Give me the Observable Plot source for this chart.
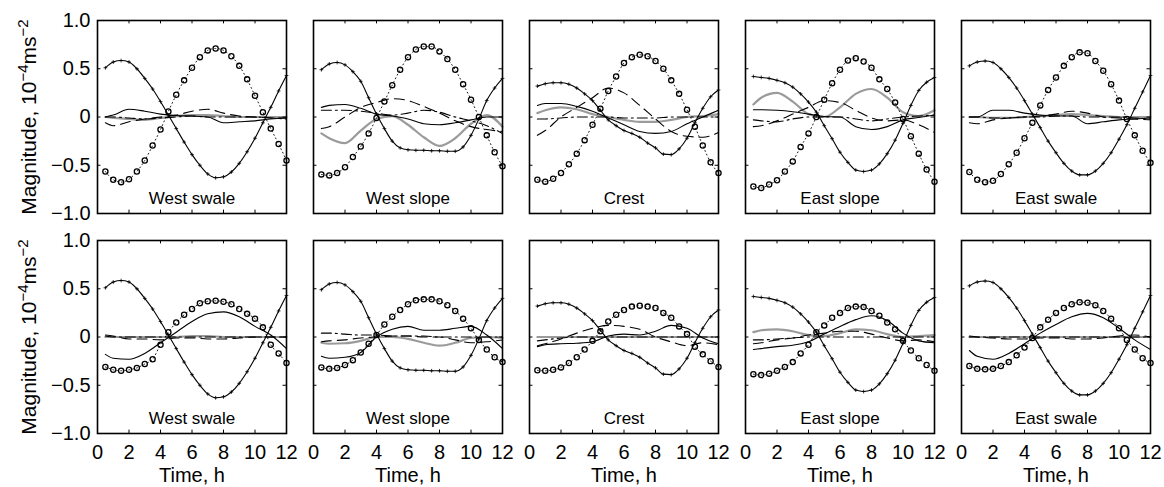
<!DOCTYPE html>
<html><head><meta charset="utf-8">
<script src="https://cdn.jsdelivr.net/npm/d3@7"></script>
<script src="https://cdn.jsdelivr.net/npm/@observablehq/plot@0.6"></script>
<style>
html,body{margin:0;padding:0;background:#fff;}
#chart{width:1164px;height:487px;}
</style></head><body><div id="chart"></div>
<script>
// ---------- data ----------
const sites = ["West swale", "West slope", "Crest", "East slope", "East swale"];
const rows = ["top", "bottom"];
const markerHours = [0.5,1,1.5,2,2.5,3,3.5,4,4.5,5,5.5,6,6.5,7,7.5,8,8.5,9,9.5,10,10.5,11,11.5,12];
const lineHours = [0.5,1,2,3,4,5,6,7,8,9,10,11,12];
const xTicks = [0,2,4,6,8,10,12];
const yTicks = [-1,-0.5,0,0.5,1];
const xLabel = "Time, h";
const yLabel = "Magnitude, 10⁻⁴ms⁻²";

// line with "+" markers (same in both rows)
const plusTotal = [
  [0.51,0.57,0.585,0.57,0.50,0.40,0.29,0.16,0.02,-0.12,-0.26,-0.39,-0.50,-0.59,-0.63,-0.62,-0.57,-0.48,-0.36,-0.22,-0.06,0.10,0.27,0.43],
  [0.49,0.55,0.565,0.54,0.47,0.37,0.20,0.03,-0.12,-0.25,-0.32,-0.34,-0.345,-0.345,-0.35,-0.35,-0.355,-0.355,-0.31,-0.19,-0.02,0.17,0.30,0.40],
  [0.32,0.345,0.355,0.355,0.34,0.30,0.24,0.17,0.07,-0.03,-0.09,-0.14,-0.17,-0.21,-0.27,-0.32,-0.385,-0.39,-0.33,-0.22,-0.06,0.09,0.21,0.28],
  [0.42,0.41,0.40,0.38,0.355,0.31,0.24,0.155,0.05,-0.09,-0.225,-0.365,-0.47,-0.55,-0.565,-0.55,-0.485,-0.38,-0.24,-0.065,0.12,0.275,0.36,0.41],
  [0.53,0.57,0.58,0.565,0.50,0.41,0.30,0.17,0.03,-0.11,-0.25,-0.37,-0.48,-0.56,-0.60,-0.60,-0.56,-0.48,-0.37,-0.23,-0.08,0.09,0.26,0.43]
];
// dotted line with circle markers
const circlesTop = [
  [-0.565,-0.65,-0.675,-0.645,-0.565,-0.45,-0.295,-0.13,0.057,0.23,0.38,0.51,0.62,0.69,0.71,0.69,0.63,0.53,0.39,0.22,0.05,-0.12,-0.28,-0.45],
  [-0.595,-0.605,-0.58,-0.52,-0.415,-0.305,-0.17,-0.01,0.16,0.33,0.49,0.62,0.70,0.73,0.73,0.68,0.60,0.49,0.34,0.18,0.0,-0.19,-0.365,-0.51],
  [-0.65,-0.67,-0.64,-0.58,-0.49,-0.38,-0.24,-0.08,0.085,0.27,0.42,0.56,0.62,0.645,0.63,0.58,0.50,0.38,0.24,0.075,-0.10,-0.295,-0.47,-0.58],
  [-0.72,-0.735,-0.70,-0.655,-0.565,-0.46,-0.31,-0.17,0.0,0.18,0.35,0.49,0.585,0.61,0.575,0.51,0.39,0.29,0.15,-0.02,-0.20,-0.38,-0.545,-0.67],
  [-0.57,-0.65,-0.675,-0.66,-0.59,-0.49,-0.37,-0.22,-0.06,0.12,0.28,0.41,0.53,0.62,0.67,0.66,0.58,0.48,0.34,0.17,-0.02,-0.19,-0.35,-0.475]
];
const circlesBottom = [
  [-0.31,-0.34,-0.35,-0.34,-0.32,-0.28,-0.23,-0.08,0.05,0.15,0.23,0.29,0.35,0.37,0.375,0.365,0.34,0.29,0.24,0.19,0.10,-0.08,-0.17,-0.27],
  [-0.315,-0.33,-0.32,-0.29,-0.24,-0.16,-0.07,0.02,0.13,0.21,0.28,0.34,0.38,0.39,0.39,0.37,0.33,0.27,0.19,0.09,-0.03,-0.13,-0.21,-0.26],
  [-0.345,-0.35,-0.34,-0.315,-0.27,-0.21,-0.13,-0.04,0.06,0.16,0.23,0.28,0.315,0.325,0.315,0.30,0.25,0.20,0.11,0.03,-0.10,-0.18,-0.25,-0.31],
  [-0.385,-0.395,-0.38,-0.35,-0.31,-0.26,-0.17,-0.08,0.05,0.12,0.20,0.25,0.30,0.315,0.31,0.27,0.22,0.15,0.08,-0.04,-0.14,-0.22,-0.29,-0.35],
  [-0.30,-0.33,-0.335,-0.33,-0.30,-0.26,-0.19,-0.11,-0.01,0.10,0.18,0.25,0.30,0.34,0.36,0.355,0.33,0.27,0.19,0.09,-0.03,-0.13,-0.22,-0.27]
];
// thin solid black line
const solidTop = [
  [0.0,0.02,0.08,0.06,0.03,0.015,0.01,0.0,-0.06,-0.05,-0.04,-0.02,-0.01],
  [0.10,0.12,0.13,0.09,0.03,0.01,-0.02,-0.07,-0.08,-0.06,-0.03,0.0,0.0],
  [0.12,0.14,0.14,0.11,0.06,-0.01,-0.08,-0.15,-0.17,-0.15,-0.07,0.0,0.07],
  [0.075,0.075,0.07,0.055,0.03,0.005,0.0,-0.10,-0.13,-0.10,-0.03,-0.005,0.02],
  [0.0,0.0,0.07,0.07,0.04,0.02,0.01,0.01,-0.07,-0.05,-0.03,-0.02,-0.01]
];
const solidBottom = [
  [-0.18,-0.22,-0.23,-0.17,-0.06,0.05,0.16,0.24,0.26,0.21,0.11,0.02,-0.12],
  [-0.20,-0.22,-0.21,-0.16,0.0,0.08,0.11,0.07,0.07,0.09,0.11,0.02,-0.12],
  [-0.10,-0.08,-0.07,-0.065,-0.05,0.01,0.03,0.02,0.06,0.12,0.09,-0.01,-0.07],
  [-0.13,-0.12,-0.10,-0.085,-0.05,0.03,0.11,0.18,0.22,0.17,0.04,-0.04,-0.06],
  [-0.14,-0.20,-0.23,-0.17,-0.07,0.04,0.13,0.21,0.245,0.20,0.09,-0.03,-0.13]
];
// dashed black line
const dashedTop = [
  [-0.06,-0.09,-0.05,-0.02,0.0,0.02,0.06,0.08,0.04,0.01,0.0,-0.01,-0.01],
  [-0.12,-0.10,0.0,0.10,0.15,0.19,0.17,0.11,0.04,-0.04,-0.10,-0.13,-0.15],
  [-0.19,-0.14,0.0,0.10,0.20,0.30,0.25,0.12,-0.02,-0.15,-0.20,-0.21,-0.16],
  [-0.10,-0.09,-0.04,0.03,0.10,0.17,0.15,0.07,-0.01,-0.04,-0.03,-0.08,-0.16],
  [-0.06,-0.07,-0.03,-0.01,0.0,0.01,0.03,0.06,0.04,0.0,-0.01,-0.02,-0.03]
];
const dashedBottom = [
  [0.02,0.01,-0.02,-0.02,-0.03,-0.01,-0.01,-0.02,-0.02,-0.01,0.0,0.0,0.0],
  [-0.05,-0.04,-0.03,-0.01,0.0,0.01,0.01,0.0,0.0,-0.03,-0.06,-0.05,-0.03],
  [-0.09,-0.07,-0.02,0.04,0.09,0.12,0.11,0.08,0.0,-0.05,-0.09,-0.06,-0.08],
  [-0.07,-0.06,-0.03,-0.01,0.02,0.04,0.06,0.06,0.03,-0.01,-0.04,-0.03,-0.05],
  [0.01,0.0,-0.01,-0.02,-0.02,-0.01,-0.01,-0.02,-0.02,-0.01,0.01,0.02,0.0]
];
// dash-dot black line
const dashDotTop = [
  [0.0,0.0,-0.01,-0.02,-0.01,0.0,0.01,0.0,0.0,0.0,0.0,-0.01,-0.02],
  [0.07,0.07,0.07,0.06,0.04,0.02,0.04,0.07,0.05,0.0,-0.04,-0.09,-0.17],
  [-0.02,-0.02,-0.01,0.0,0.0,0.0,-0.01,-0.01,-0.01,0.0,0.0,0.0,0.0],
  [-0.03,-0.04,-0.05,-0.02,0.0,0.0,0.0,-0.02,-0.04,-0.02,0.0,0.01,0.02],
  [0.0,0.0,-0.01,-0.01,0.0,0.0,0.01,0.01,0.0,0.0,0.0,-0.01,-0.02]
];
const dashDotBottom = [
  [0.01,0.0,0.0,0.0,0.0,0.0,0.0,0.0,0.0,0.0,0.0,0.0,0.0],
  [0.04,0.04,0.03,0.02,0.02,0.01,0.01,0.01,0.0,0.0,0.0,0.0,0.0],
  [-0.04,-0.03,-0.01,0.0,0.0,0.0,0.0,0.0,0.0,0.0,0.0,0.0,0.0],
  [-0.03,-0.03,-0.02,-0.01,0.0,0.0,0.0,0.0,0.0,0.0,0.0,0.0,0.0],
  [0.0,0.0,0.0,0.0,0.0,0.0,0.0,0.0,0.0,0.0,0.0,0.0,0.0]
];
// thick gray line
const grayTop = [
  [0.0,-0.01,-0.02,-0.03,-0.01,0.01,0.02,0.02,0.01,0.0,0.0,0.0,0.0],
  [-0.17,-0.22,-0.27,-0.14,-0.02,0.01,-0.08,-0.21,-0.30,-0.22,-0.07,0.02,-0.10],
  [0.04,0.07,0.10,0.08,0.03,0.0,-0.03,-0.05,-0.05,-0.03,0.0,0.01,0.03],
  [0.13,0.20,0.25,0.16,0.03,0.0,0.10,0.24,0.29,0.20,0.05,0.01,0.07],
  [0.0,0.0,-0.01,-0.01,0.0,0.01,0.02,0.03,0.02,0.01,0.0,0.0,0.0]
];
const grayBottom = [
  [0.0,0.0,0.0,0.0,0.0,0.0,0.01,0.01,0.0,0.0,0.0,0.0,0.0],
  [-0.06,-0.07,-0.065,-0.04,0.0,0.0,-0.02,-0.06,-0.09,-0.06,-0.01,0.0,-0.01],
  [0.0,0.0,0.0,0.0,0.0,0.0,0.0,0.0,0.0,0.0,0.0,0.0,0.0],
  [0.05,0.07,0.08,0.06,0.02,0.01,0.04,0.08,0.07,0.03,0.0,0.01,0.02],
  [0.0,0.0,0.0,0.0,0.0,0.0,0.0,0.0,0.0,0.0,0.0,0.0,0.0]
];

// ---------- long table ----------
const pts = [];
sites.forEach((site, i) => {
  rows.forEach(row => {
    const top = row === "top";
    markerHours.forEach((h, j) => {
      pts.push({site, row, h, v: plusTotal[i][j], s: "plus"});
      pts.push({site, row, h, v: (top ? circlesTop : circlesBottom)[i][j], s: "circ"});
    });
    lineHours.forEach((h, j) => {
      pts.push({site, row, h, v: (top ? solidTop : solidBottom)[i][j], s: "solid"});
      pts.push({site, row, h, v: (top ? dashedTop : dashedBottom)[i][j], s: "dashed"});
      pts.push({site, row, h, v: (top ? dashDotTop : dashDotBottom)[i][j], s: "dashdot"});
      pts.push({site, row, h, v: (top ? grayTop : grayBottom)[i][j], s: "gray"});
    });
  });
});
const sel = s => pts.filter(d => d.s === s);
const panels = sites.flatMap(site => rows.map(row => ({site, row})));
const bottomPanels = panels.filter(d => d.row === "bottom");
const leftPanels = panels.filter(d => d.site === sites[0]);
const fmtY = d => d === 0 ? "0" : d.toFixed(1).replace("-", "\u2212");

const common = {x: "h", y: "v", fx: "site", fy: "row", curve: "monotone-x"};

const chart = Plot.plot({
  width: 1164, height: 487,
  marginLeft: 96, marginRight: 13, marginTop: 20, marginBottom: 53,
  fx: {domain: sites, axis: null, paddingInner: 0.124},
  fy: {domain: rows, axis: null, paddingInner: 0.1225},
  x: {domain: [0, 12]},
  y: {domain: [-1, 1]},
  style: {fontFamily: "'Liberation Sans', Arial, sans-serif", fontSize: "20px", color: "#000", background: "#fff"},
  marks: [
    Plot.line(sel("gray"), {...common, stroke: "#9b9b9b", strokeWidth: 2.2}),
    Plot.line(sel("dashdot"), {...common, stroke: "#000", strokeWidth: 1.1, strokeDasharray: "10,4,2,4"}),
    Plot.line(sel("dashed"), {...common, stroke: "#000", strokeWidth: 1.1, strokeDasharray: "10,6"}),
    Plot.line(sel("solid"), {...common, stroke: "#000", strokeWidth: 1.1}),
    Plot.line(sel("circ"), {...common, stroke: "#000", strokeWidth: 0.9, strokeDasharray: "1,3"}),
    Plot.dot(sel("circ"), {x: "h", y: "v", fx: "site", fy: "row", r: 2.6, stroke: "#000", strokeWidth: 1.3, fill: "none"}),
    Plot.line(sel("plus"), {...common, stroke: "#000", strokeWidth: 1.1}),
    Plot.dot(sel("plus"), {x: "h", y: "v", fx: "site", fy: "row", symbol: "plus", r: 1.3, stroke: "#000", strokeWidth: 0.8}),
    // inward ticks on all four sides
    Plot.ruleY(yTicks, {y: d => d, x1: 0, x2: 0.22, stroke: "#000", strokeWidth: 1}),
    Plot.ruleY(yTicks, {y: d => d, x1: 11.78, x2: 12, stroke: "#000", strokeWidth: 1}),
    Plot.ruleX(xTicks, {x: d => d, y1: -1, y2: -0.965, stroke: "#000", strokeWidth: 1}),
    Plot.ruleX(xTicks, {x: d => d, y1: 0.965, y2: 1, stroke: "#000", strokeWidth: 1}),
    Plot.frame({stroke: "#000", strokeWidth: 1.6}),
    Plot.axisY({ticks: yTicks, tickSize: 0, tickPadding: 7, tickFormat: fmtY, label: null, fontSize: 20}),
    Plot.axisX({ticks: xTicks, tickSize: 0, tickPadding: 11, tickFormat: d => String(d), label: null, fontSize: 20}),
    Plot.text(panels, {fx: "site", fy: "row", text: "site", frameAnchor: "bottom", lineAnchor: "middle", dy: -14.5, fontSize: 17}),
    Plot.text(bottomPanels, {fx: "site", fy: "row", text: () => xLabel, frameAnchor: "bottom", lineAnchor: "middle", dy: 42, fontSize: 20}),
    Plot.text(leftPanels, {fx: "site", fy: "row", text: () => yLabel, frameAnchor: "left", textAnchor: "middle", lineAnchor: "middle", rotate: -90, dx: -68, fontSize: 21})
  ]
});
document.getElementById("chart").appendChild(chart);

// render the exponents of the y label as raised tspans
chart.querySelectorAll("text").forEach(t => {
  if (t.textContent === yLabel) {
    while (t.firstChild) t.removeChild(t.firstChild);
    const parts = [["Magnitude, 10", 0, null], ["\u22124", -8, "15px"], ["ms", 8, null], ["\u22122", -8, "15px"]];
    parts.forEach(([s, dy, fs]) => {
      const ts = document.createElementNS("http://www.w3.org/2000/svg", "tspan");
      ts.textContent = s;
      if (dy) ts.setAttribute("dy", dy);
      if (fs) ts.setAttribute("font-size", fs);
      t.appendChild(ts);
    });
  }
});
</script>
</body></html>
